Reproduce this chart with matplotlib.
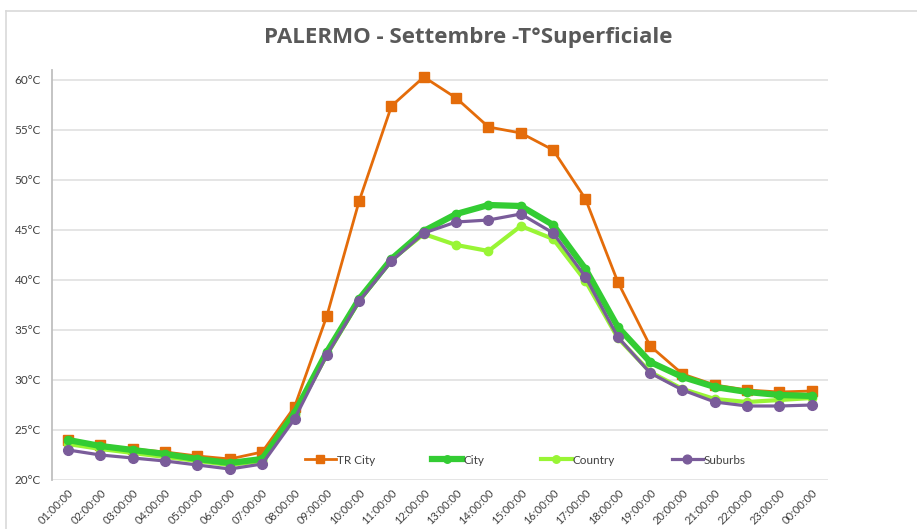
import matplotlib
matplotlib.use('Agg')
import matplotlib.pyplot as plt
from matplotlib.lines import Line2D
import numpy as np

hours = ['01:00:00', '02:00:00', '03:00:00', '04:00:00', '05:00:00', '06:00:00',
         '07:00:00', '08:00:00', '09:00:00', '10:00:00', '11:00:00', '12:00:00',
         '13:00:00', '14:00:00', '15:00:00', '16:00:00', '17:00:00', '18:00:00',
         '19:00:00', '20:00:00', '21:00:00', '22:00:00', '23:00:00', '00:00:00']

tr_city = [24.0, 23.5, 23.1, 22.8, 22.4, 22.1, 22.8, 27.3, 36.4, 47.9, 57.4, 60.3,
           58.2, 55.3, 54.7, 53.0, 48.1, 39.8, 33.4, 30.6, 29.5, 29.0, 28.8, 28.9]
city = [24.0, 23.4, 23.0, 22.6, 22.1, 21.7, 22.1, 26.7, 32.8, 38.1, 42.1, 44.9,
        46.6, 47.5, 47.4, 45.5, 41.1, 35.3, 31.8, 30.3, 29.3, 28.8, 28.5, 28.4]
country = [23.6, 23.1, 22.7, 22.3, 21.9, 21.5, 21.9, 26.5, 32.5, 37.9, 42.0, 44.6,
           43.5, 42.9, 45.4, 44.1, 39.9, 34.2, 30.8, 29.1, 28.1, 27.8, 28.0, 28.2]
suburbs = [23.0, 22.5, 22.2, 21.9, 21.5, 21.1, 21.6, 26.1, 32.5, 37.9, 41.9, 44.7,
           45.8, 46.0, 46.6, 44.7, 40.3, 34.3, 30.7, 29.0, 27.8, 27.4, 27.4, 27.5]

yticks = [20, 25, 30, 35, 40, 45, 50, 55, 60]

plt.rcParams['font.family'] = ['Lato', 'DejaVu Sans']

fig = plt.figure(figsize=(9.17, 5.29), dpi=100)
ax = fig.add_axes([52/917, 1-480/529, 776/917, 410/529])

x = np.arange(len(hours))
ax.plot(x, tr_city, color='#E46C0A', lw=2, marker='s', ms=7, label='TR City', zorder=3)
ax.plot(x, city, color='#33CC33', lw=4.5, marker='o', ms=6, label='City', zorder=4)
ax.plot(x, country, color='#99F535', lw=3, marker='o', ms=6, label='Country', zorder=3)
ax.plot(x, suburbs, color='#7A5C9A', lw=2.3, marker='o', ms=7, label='Suburbs', zorder=5)

ax.set_xlim(-0.5, len(hours) - 0.5)
ax.set_ylim(20, 61)
ax.set_yticks(yticks)
ax.set_yticklabels(['{}°C'.format(v) for v in yticks], fontsize=8.5, color='#404040')
ax.set_xticks(x)
ax.set_xticklabels(hours, rotation=45, ha='right', rotation_mode='anchor',
                   fontsize=8, color='#404040')
ax.tick_params(length=0)
ax.tick_params(axis='y', pad=8)
ax.tick_params(axis='x', pad=5)

ax.grid(axis='y', color='#E3E3E3', lw=1.3)
ax.set_axisbelow(True)
for s in ['top', 'right', 'bottom']:
    ax.spines[s].set_visible(False)
ax.spines['left'].set_color('#BFBFBF')
ax.spines['left'].set_linewidth(1.3)

ax.legend(loc='center left', bbox_to_anchor=((305-52)/776, 20/410), ncol=4,
          frameon=False, fontsize=8.5, columnspacing=4.8, handlelength=2.6,
          handletextpad=0.1, markerscale=0.9, labelcolor='#404040',
          borderaxespad=0, borderpad=0)

fig.text(468/917, 1-38/529, 'PALERMO - Settembre -T°Superficiale', ha='center',
         va='center', fontsize=16, fontweight='bold', color='#595959',
         family=['Open Sans', 'DejaVu Sans'])

# thin frame round the chart area
fig.add_artist(Line2D([6/917, 1], [1-11/529, 1-11/529], color='#D9D9D9', lw=1.2))
fig.add_artist(Line2D([6/917, 6/917], [0, 1-11/529], color='#D9D9D9', lw=1.2))

fig.savefig('out.png', dpi=100)
